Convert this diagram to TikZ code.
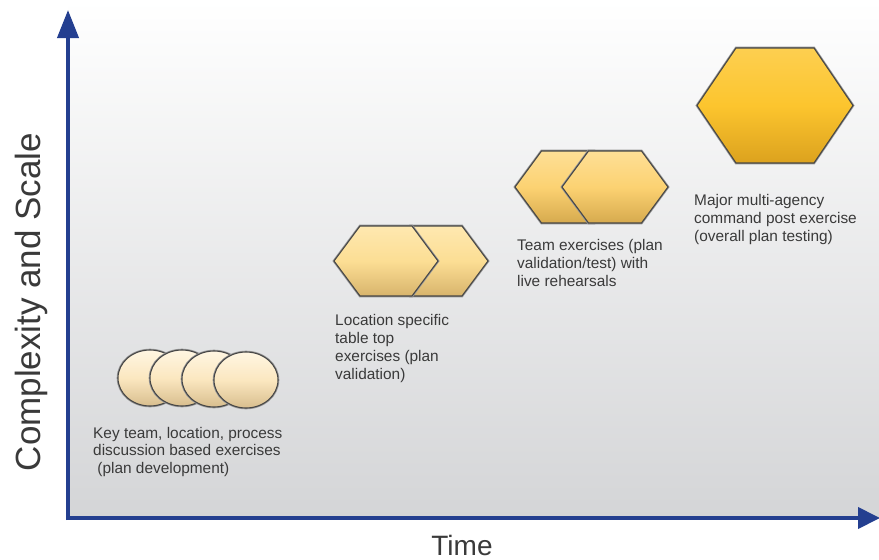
\documentclass[tikz,border=0pt]{standalone}
\usepackage{fontspec}
\setmainfont{Liberation Sans}
\usetikzlibrary{arrows.meta}
\definecolor{axisblue}{HTML}{243F90}
\definecolor{txt}{HTML}{3A3A3A}
\definecolor{bgbot}{HTML}{D4D5D7}
\definecolor{cirtop}{HTML}{FFF6E2}
\definecolor{cirmid}{HTML}{FBE7C0}
\definecolor{cirbot}{HTML}{D8BE8E}
\definecolor{hAtop}{HTML}{FEE8B0}
\definecolor{hAmid}{HTML}{FCDE94}
\definecolor{hAbot}{HTML}{D8B46C}
\definecolor{hBtop}{HTML}{FEDF96}
\definecolor{hBmid}{HTML}{FCD272}
\definecolor{hBbot}{HTML}{D6AA4E}
\definecolor{hCtop}{HTML}{FDCF50}
\definecolor{hCmid}{HTML}{FCC52E}
\definecolor{hCbot}{HTML}{DCA21E}
\tikzset{
  axis/.style={draw=axisblue, line width=4pt},
  lbl/.style={text=txt, font=\fontsize{15.4pt}{17.9pt}\selectfont, align=left, anchor=base west, inner sep=0pt},
  halo/.style={draw=black!40, line width=2.6pt},
  rim/.style={draw=black!72, line width=1.1pt},
  circ/.style={top color=cirtop, bottom color=cirbot, middle color=cirmid},
  hexA/.style={top color=hAtop, bottom color=hAbot, middle color=hAmid},
  hexB/.style={top color=hBtop, bottom color=hBbot, middle color=hBmid},
  hexC/.style={top color=hCtop, bottom color=hCbot, middle color=hCmid},
}
\newcommand{\myhex}[5]{%
  \path[halo] ({#1-#3},#2) -- ({#1-#3/2},{#2-#4}) -- ({#1+#3/2},{#2-#4}) -- ({#1+#3},#2) -- ({#1+#3/2},{#2+#4}) -- ({#1-#3/2},{#2+#4}) -- cycle;
  \path[#5, rim] ({#1-#3},#2) -- ({#1-#3/2},{#2-#4}) -- ({#1+#3/2},{#2-#4}) -- ({#1+#3},#2) -- ({#1+#3/2},{#2+#4}) -- ({#1-#3/2},{#2+#4}) -- cycle;
}
\newcommand{\mycirc}[2]{%
  \path[halo] (#1,#2) ellipse [x radius=32, y radius=28];
  \path[circ, rim] (#1,#2) ellipse [x radius=32, y radius=28];
}
\begin{document}
\begin{tikzpicture}[x=1pt,y=-1pt]
\useasboundingbox (0,0) rectangle (879,560);
\fill[white] (0,0) rectangle (879,560);
\shade[top color=white, bottom color=bgbot] (68,0) rectangle (879,518);

% circles
\mycirc{150}{378}
\mycirc{182}{378}
\mycirc{214}{379}
\mycirc{246}{380}

% hexagon pair 1 (right behind)
\myhex{436}{261}{52}{35}{hexA}
\myhex{386}{261}{52}{35}{hexA}

% hexagon pair 2 (left behind)
\myhex{568}{187}{53}{36}{hexB}
\myhex{615}{187}{53}{36}{hexB}

% big hexagon
\myhex{775}{105.5}{78}{57.5}{hexC}

% axes
\coordinate (origin) at (68,520);
\coordinate (ytip) at (68,10);
\coordinate (xstart) at (66,518);
\coordinate (xtip) at (880,518);
\draw[axis, -{Triangle[length=28pt,width=21pt]}] (origin) -- (ytip);
\draw[axis, -{Triangle[length=22pt,width=21pt]}] (xstart) -- (xtip);

% labels (anchor = baseline of last line)
\node[lbl] (l1) at (93,473.8) {Key team, location, process\\discussion based exercises\\ \ (plan development)};
\node[lbl] (l2) at (335,379) {Location specific\\table top\\exercises (plan\\validation)};
\node[lbl] (l3) at (517,286) {Team exercises (plan\\validation/test) with\\live rehearsals};
\node[lbl] (l4) at (694,241) {Major multi-agency\\command post exercise\\(overall plan testing)};

\node[text=txt, font=\fontsize{35pt}{40pt}\selectfont, rotate=90, anchor=base, inner sep=0pt] (ylab) at (40,302) {Complexity and Scale};
\node[text=txt, font=\fontsize{28pt}{32pt}\selectfont, anchor=base, inner sep=0pt] (xlab) at (462,555) {Time};
\end{tikzpicture}
\end{document}
